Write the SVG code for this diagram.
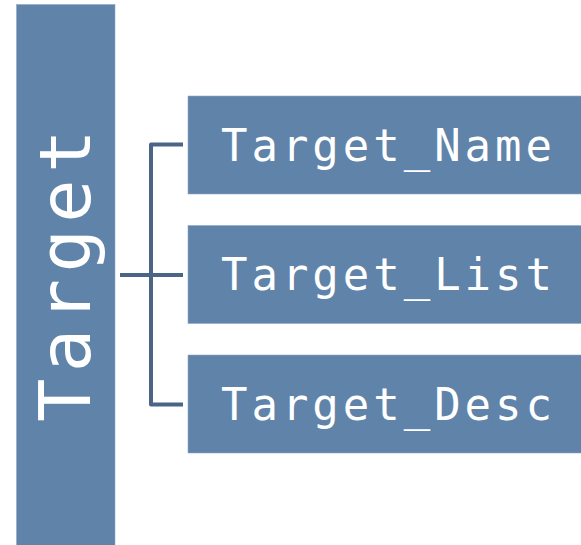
<svg xmlns="http://www.w3.org/2000/svg" width="581" height="545" viewBox="0 0 581 545">
  <style>
    .box { fill: #5f83a9; stroke: #8fa9c6; stroke-width: 0.6; }
    .label { fill: #ffffff; font-family: "DejaVu Sans Mono", "Liberation Mono", monospace; letter-spacing: 0.09em; }
    .wire { fill: none; stroke: #4a6585; stroke-width: 4; stroke-linejoin: round; }
  </style>
  <rect width="581" height="545" fill="#ffffff"/>

  <!-- root node, label runs bottom to top -->
  <g id="target">
    <rect class="box" x="16.5" y="4.5" width="98.5" height="545"/>
    <text class="label" font-size="72" transform="translate(90 422) rotate(-90)">Target</text>
  </g>

  <!-- bracket joining the root to its three children -->
  <g id="connectors">
    <path class="wire" d="M183 144.5 H151 V404.5 H183"/>
    <path class="wire" d="M120 275 H183"/>
  </g>

  <g id="target-name">
    <rect class="box" x="188" y="96" width="400" height="98"/>
    <text class="label" font-size="44" x="221" y="160.5">Target_Name</text>
  </g>

  <g id="target-list">
    <rect class="box" x="188" y="225.5" width="400" height="98"/>
    <text class="label" font-size="44" x="221" y="290">Target_List</text>
  </g>

  <g id="target-desc">
    <rect class="box" x="188" y="355" width="400" height="98"/>
    <text class="label" font-size="44" x="221" y="419.5">Target_Desc</text>
  </g>
</svg>
